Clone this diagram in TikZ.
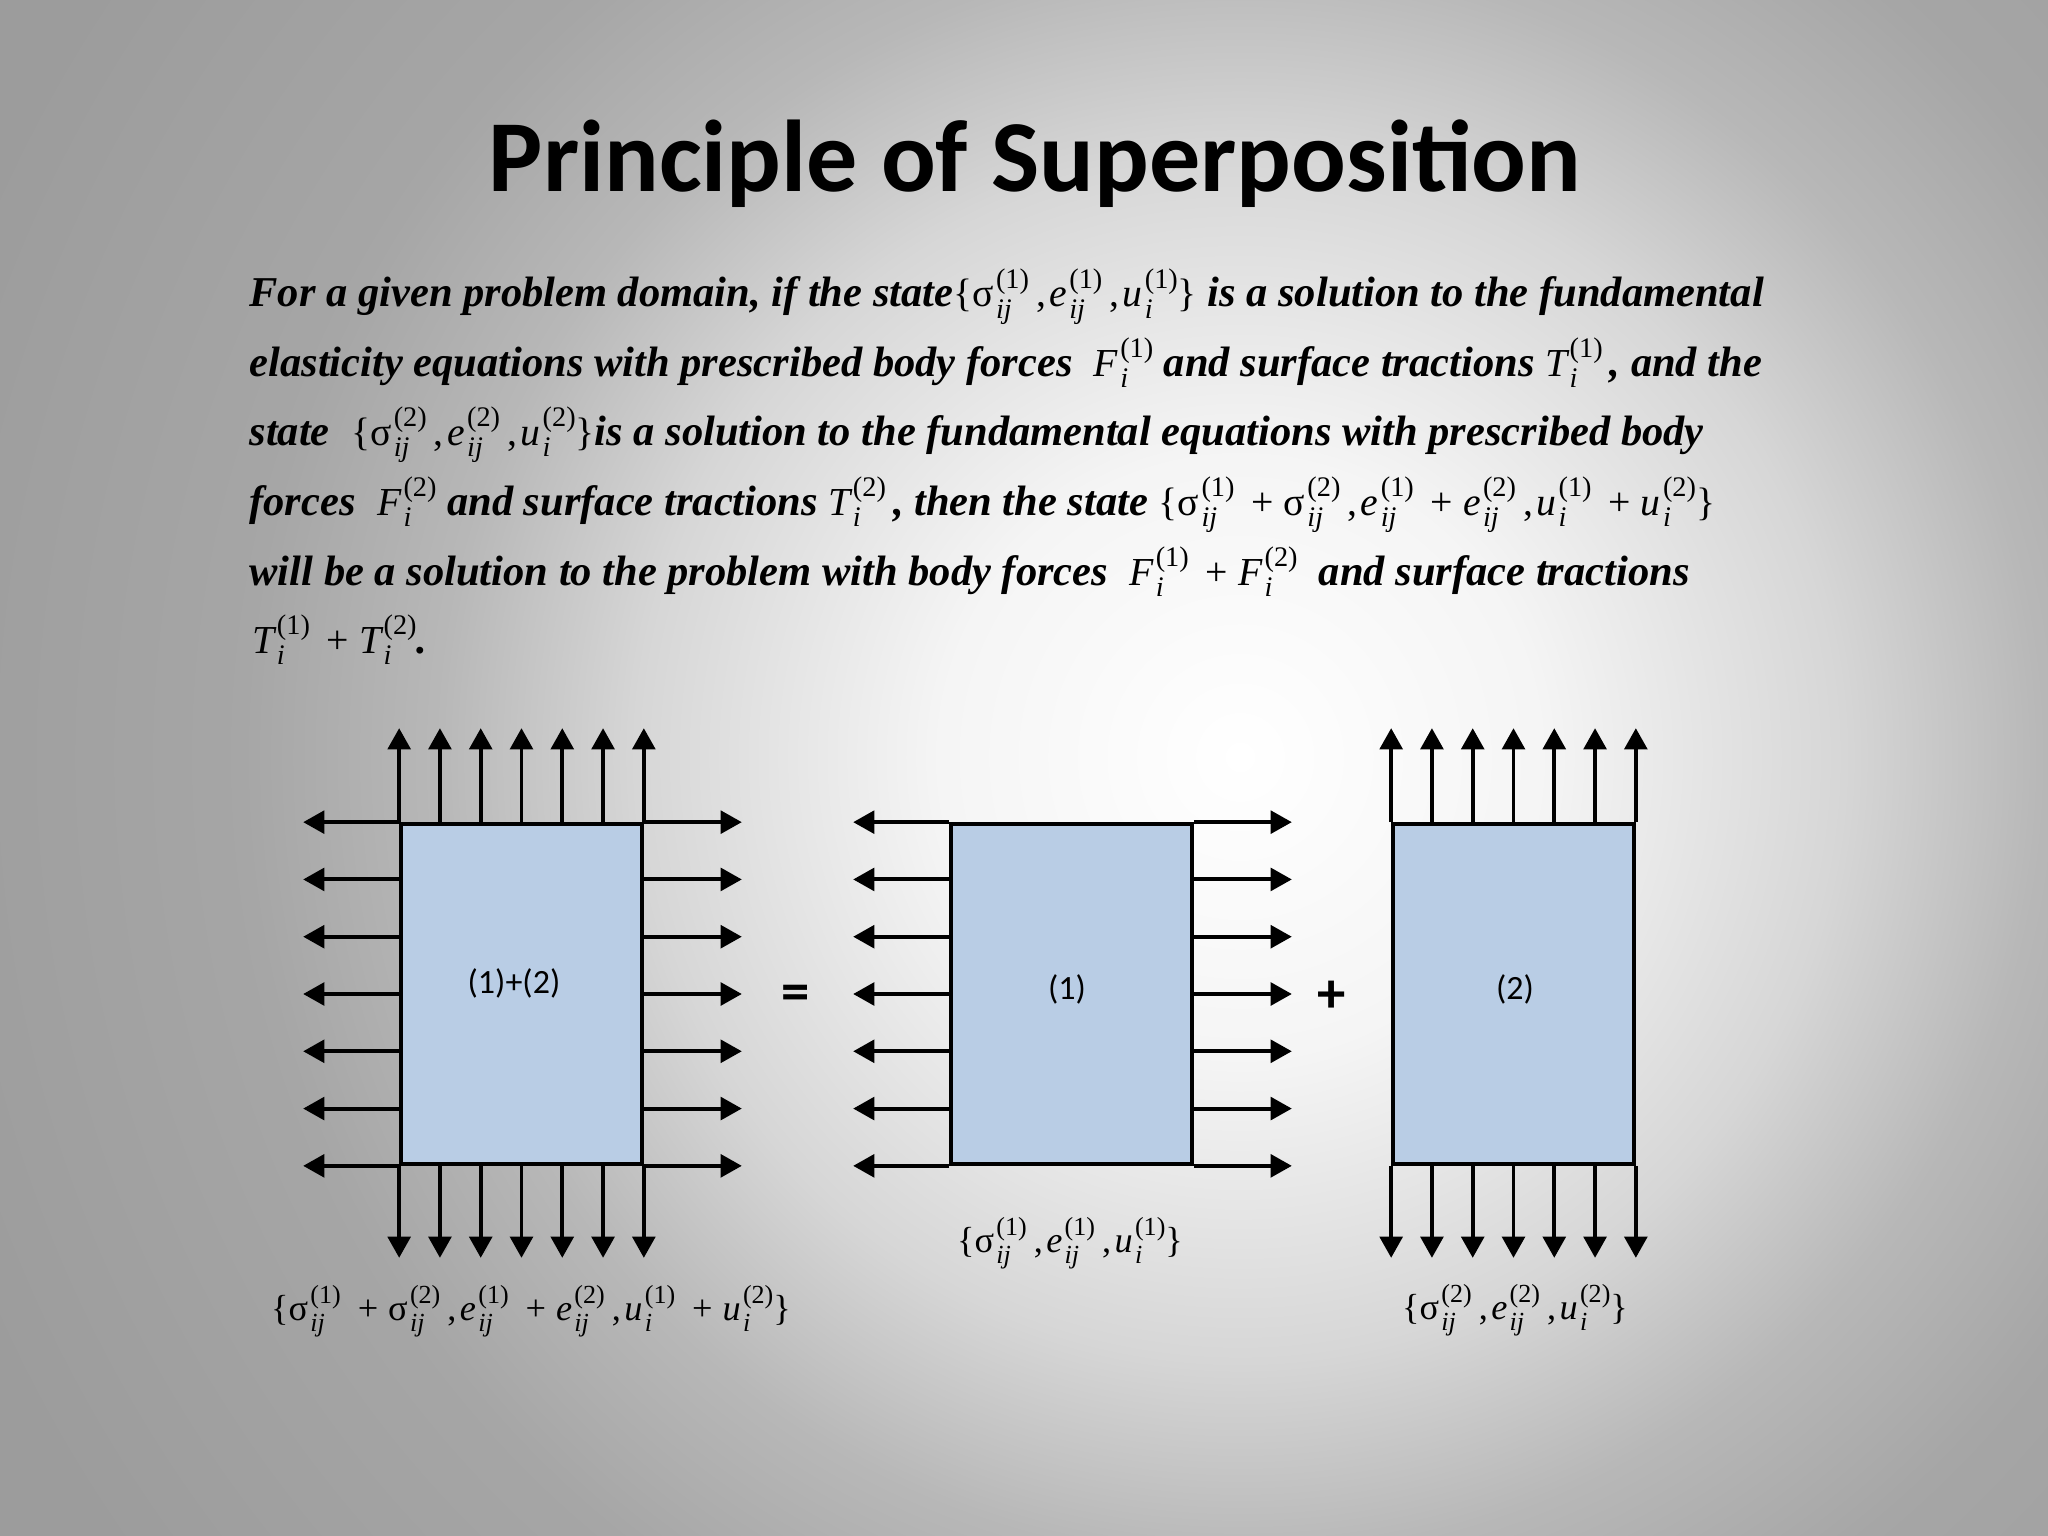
\documentclass[tikz,border=0pt]{standalone}
\usepackage{fontspec}
\setmainfont{Liberation Serif}
\newfontfamily\calibri{Carlito}
\usetikzlibrary{arrows.meta,calc}
\definecolor{boxblue}{RGB}{185,205,229}
\colorlet{bgA}{white}
\colorlet{bgB}{white!96!black}
\colorlet{bgC}{white!84!black}
\colorlet{bgD}{white!72!black}
\colorlet{bgE}{white!65!black}
\colorlet{bgF}{white!61!black}
\pgfdeclareradialshading{bgshade}{\pgfpoint{0bp}{0bp}}{color(0bp)=(bgA); color(3.8bp)=(bgB); color(7.6bp)=(bgC); color(10.1bp)=(bgD); color(12.6bp)=(bgE); color(17.6bp)=(bgF); color(25bp)=(bgF); color(50bp)=(bgF)}
\newcommand\mathsz{14}
\newcommand\scrsz{10}
\newcommand\suprise{6.5pt}
\newcommand\subdrop{4pt}
\newcommand\scrkern{0.8pt}
\newcommand\SCR{\normalfont\fontsize{\scrsz}{\scrsz}\selectfont}
\newcommand\MQ[3]{\mbox{{\normalfont\fontsize{\mathsz}{\mathsz}\selectfont #1}\kern\scrkern\rlap{\raisebox{-\subdrop}{\SCR\itshape #2}}\raisebox{\suprise}{\SCR(#3)}}}
\newcommand\MS[2]{\MQ{σ}{#1}{#2}}
\newcommand\MV[3]{\MQ{\itshape #1}{#2}{#3}}
\newcommand\MT[1]{{\normalfont\fontsize{\mathsz}{\mathsz}\selectfont #1}}
\newcommand\PL{\MT{\kern6pt+\kern3.5pt}}
\newcommand\CM{\MT{\kern2.5pt,\kern1.2pt}}
\tikzset{
  body/.style={font=\fontsize{15}{18}\selectfont\bfseries\itshape, anchor=base west, inner sep=0pt},
  lab/.style={font=\def\mathsz{12.8}\def\scrsz{9.2}\def\suprise{6pt}\def\subdrop{3.7pt}\fontsize{12.8}{15}\selectfont, anchor=center, inner sep=0pt},
  panel/.style={draw=black, line width=1.3pt, fill=boxblue, minimum width=85.04pt, minimum height=119.98pt, inner sep=0pt},
  plabel/.style={font=\calibri\fontsize{12}{14}\selectfont, inner sep=0pt},
  opsign/.style={font=\calibri\bfseries\fontsize{20}{24}\selectfont, inner sep=0pt},
  force/.style={line width=1.4pt, -{Triangle[length=7.5pt, width=8pt]}}
}
\begin{document}
\begin{tikzpicture}[x=0.35288pt, y=-0.35288pt]
\useasboundingbox (0,0) rectangle (2048,1536);
\begin{scope}
  \clip (0,0) rectangle (2048,1536);
  \shade[shading=bgshade] (1240,757) circle (700pt);
\end{scope}
% title
\node[font=\calibri\bfseries\fontsize{36}{40}\selectfont, anchor=base, inner sep=0pt] (title) at (1035,192) {Principle of Superposition};
% body text
\node[body] (l1) at (249,307) {For a given problem domain, if the state\MT{\{}\MS{ij}{1}\CM\MV{e}{ij}{1}\CM\MV{u}{i}{1}\MT{\}} is a solution to the fundamental};
\node[body] (l2) at (249,376) {elasticity equations with prescribed body forces \ \MV{F}{i}{1} and surface tractions \MV{T}{i}{1}\,, and the};
\node[body] (l3) at (249,445) {state \ \MT{\{}\MS{ij}{2}\CM\MV{e}{ij}{2}\CM\MV{u}{i}{2}\MT{\}}is a solution to the fundamental equations with prescribed body};
\node[body] (l4) at (249,515) {forces \ \MV{F}{i}{2} and surface tractions \MV{T}{i}{2}\,, then the state \MT{\{}\MS{ij}{1}\PL\MS{ij}{2}\CM\MV{e}{ij}{1}\PL\MV{e}{ij}{2}\CM\MV{u}{i}{1}\PL\MV{u}{i}{2}\MT{\}}};
\node[body] (l5) at (249,585) {will be a solution to the problem with body forces \ \MV{F}{i}{1}\PL\MV{F}{i}{2} \ and surface tractions};
\node[body] (l6) at (252,653) {\MV{T}{i}{1}\PL\MV{T}{i}{2}.};
% panels
\node[panel] (A) at (521.5,994) {};
\node[panel] (B) at (1071.5,994) {};
\node[panel] (C) at (1513.5,994) {};
\node[plabel] (Alab) at (514,983) {(1)+(2)};
\node[plabel] (Blab) at (1067,989) {(1)};
\node[plabel] (Clab) at (1515,989) {(2)};
\node[opsign] (eq) at (796,998) {=};
\node[opsign] (plus) at (1332,997) {+};
% forces
\foreach \k in {0,...,6} {
  \draw[force] ($(A.north west)!\k/6!(A.north east)$) -- ++(0,-94);
  \draw[force] ($(A.south west)!\k/6!(A.south east)$) -- ++(0,92);
  \draw[force] ($(A.north west)!\k/6!(A.south west)$) -- ++(-96,0);
  \draw[force] ($(A.north east)!\k/6!(A.south east)$) -- ++(98,0);
  \draw[force] ($(B.north west)!\k/6!(B.south west)$) -- ++(-96,0);
  \draw[force] ($(B.north east)!\k/6!(B.south east)$) -- ++(98,0);
  \draw[force] ($(C.north west)!\k/6!(C.north east)$) -- ++(0,-94);
  \draw[force] ($(C.south west)!\k/6!(C.south east)$) -- ++(0,92);
}
\node[panel, fill=none] at (A) {};
\node[panel, fill=none] at (B) {};
\node[panel, fill=none] at (C) {};
% state labels
\node[lab] (Astate) at (531,1311) {\MT{\{}\MS{ij}{1}\PL\MS{ij}{2}\CM\MV{e}{ij}{1}\PL\MV{e}{ij}{2}\CM\MV{u}{i}{1}\PL\MV{u}{i}{2}\MT{\}}};
\node[lab] (Bstate) at (1070,1243) {\MT{\{}\MS{ij}{1}\CM\MV{e}{ij}{1}\CM\MV{u}{i}{1}\MT{\}}};
\node[lab] (Cstate) at (1515,1310) {\MT{\{}\MS{ij}{2}\CM\MV{e}{ij}{2}\CM\MV{u}{i}{2}\MT{\}}};
\end{tikzpicture}
\end{document}
